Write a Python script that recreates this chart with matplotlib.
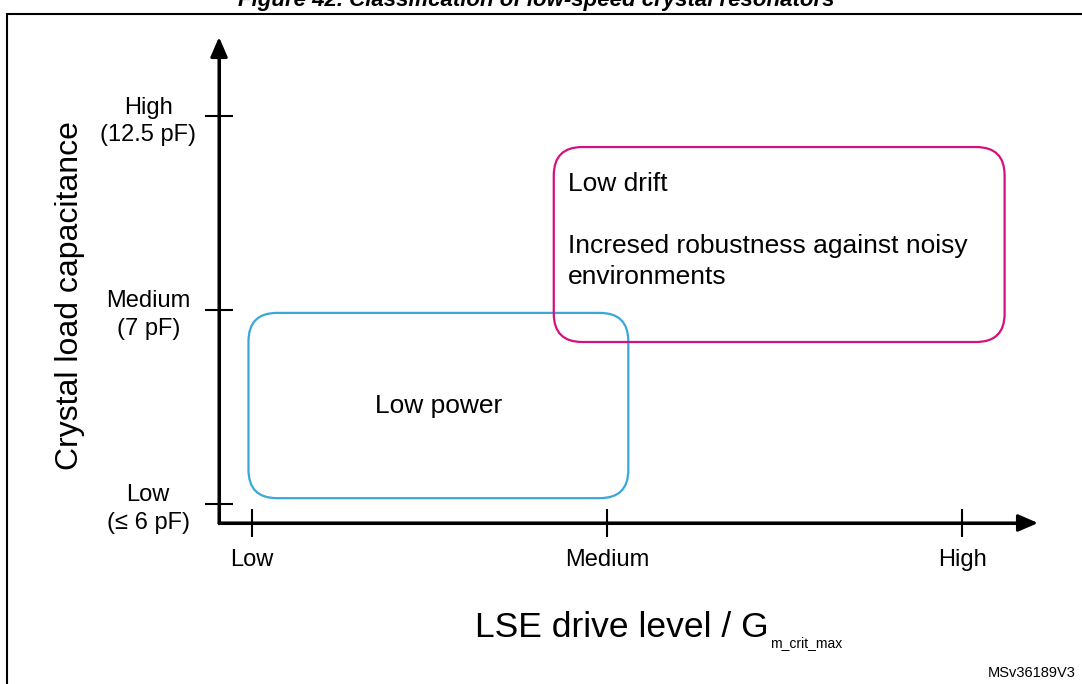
import matplotlib
matplotlib.use("Agg")
import matplotlib.pyplot as plt
from matplotlib.patches import FancyBboxPatch, Rectangle

plt.rcParams['font.family'] = ['Liberation Sans', 'DejaVu Sans']

# levels on both axes (Low, Medium, High)
x_levels = [0, 1, 2]
x_labels = ['Low', 'Medium', 'High']
y_levels = [0, 1, 2]
y_labels = ['Low\n(≤ 6 pF)', 'Medium\n(7 pF)', 'High\n(12.5 pF)']

# zones, in level units
zone_names = ['Low power', 'Low drift\n\nIncresed robustness against noisy\nenvironments']
zone_x = [(-0.01, 1.06), (0.85, 2.12)]
zone_y = [(0.03, 0.985), (0.835, 1.84)]
zone_colors = ['#3aa7dc', '#d4117c']

W, H = 1082, 684
fig = plt.figure(figsize=(W / 100, H / 100), dpi=100)
ax = fig.add_axes([0, 0, 1, 1])
ax.set_xlim(-0.71, 2.338)
ax.set_ylim(-0.928, 2.598)
ax.patch.set_alpha(0)

x0, y0 = -0.093, -0.098     # origin of the axes
x_tip, y_tip = 2.214, 2.407  # arrow tips

for s in ['top', 'right']:
    ax.spines[s].set_visible(False)
ax.spines['left'].set_position(('data', x0))
ax.spines['bottom'].set_position(('data', y0))
ax.spines['left'].set_bounds(y0, y_tip - 0.05)
ax.spines['bottom'].set_bounds(x0, x_tip - 0.03)
for s in ['left', 'bottom']:
    ax.spines[s].set_linewidth(2.2)

ax.set_xticks(x_levels)
ax.set_xticklabels(x_labels)
ax.set_yticks(y_levels)
ax.set_yticklabels(y_labels)
ax.tick_params(axis='both', direction='inout', length=20, width=1.5, labelsize=17)
ax.tick_params(axis='x', pad=9)
ax.tick_params(axis='y', pad=41)
for lab in ax.get_yticklabels():
    lab.set_ha('center')
    lab.set_multialignment('center')
    lab.set_linespacing(1.35)

# arrow heads on the axes
arrow = dict(arrowstyle='-|>,head_length=0.6,head_width=0.26', color='black',
             lw=2.2, mutation_scale=20, shrinkA=0, shrinkB=0)
ax.annotate('', xy=(x0, y_tip), xytext=(x0, y0), arrowprops=arrow)
ax.annotate('', xy=(x_tip, y0), xytext=(x0, y0), arrowprops=arrow)

# rounded zones
aspect = (355 / 194)
for name, (xa, xb), (ya, yb), col in zip(zone_names, zone_x, zone_y, zone_colors):
    box = FancyBboxPatch((xa, ya), xb - xa, yb - ya,
                         boxstyle='round,pad=0,rounding_size=0.08',
                         mutation_aspect=aspect, fill=False, ec=col, lw=1.6)
    ax.add_patch(box)

ax.text(sum(zone_x[0]) / 2, sum(zone_y[0]) / 2, zone_names[0],
        ha='center', va='center', fontsize=19)
ax.annotate(zone_names[1], xy=(zone_x[1][0], zone_y[1][1]), xytext=(10, -18),
            textcoords='offset points', ha='left', va='top', fontsize=19,
            linespacing=1.37)

# axis titles
fig.text(70 / W, 1 - 296 / H, 'Crystal load capacitance', rotation=90,
         ha='center', va='center', fontsize=23)
xl = fig.text(475 / W, 1 - 637 / H, 'LSE drive level / G', ha='left',
              va='baseline', fontsize=25.5)
fig.canvas.draw()
bb = xl.get_window_extent()
fig.text(bb.x1 / W + 1 / W, 1 - 647 / H, 'm_crit_max', ha='left',
         va='baseline', fontsize=10)

# page frame, cut title and reference code
fig.add_artist(Rectangle((7 / W, -0.1), 2, 1.1 - 14 / H, transform=fig.transFigure,
                         fill=False, ec='black', lw=1.5, clip_on=False))
fig.text(536 / W, 1 - 6 / H, 'Figure 42. Classification of low-speed crystal resonators',
         ha='center', va='baseline', fontsize=16, fontweight='bold', fontstyle='italic')
fig.text(1076 / W, 1 - 677 / H, 'MSv36189V3', ha='right', va='baseline', fontsize=10.5)

fig.savefig('out.png', dpi=100)
